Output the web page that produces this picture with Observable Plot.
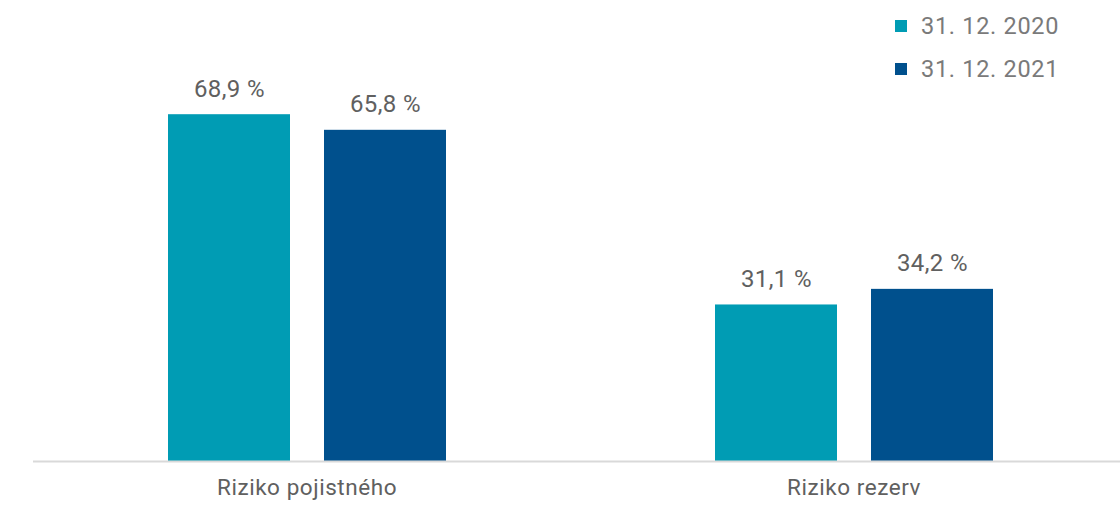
<!DOCTYPE html>
<html>
<head>
<meta charset="utf-8">
<script src="https://cdn.jsdelivr.net/npm/d3@7"></script>
<script src="https://cdn.jsdelivr.net/npm/@observablehq/plot@0.6"></script>
<style>
  html, body { margin: 0; padding: 0; background: #ffffff; }
  body { width: 1120px; height: 505px; position: relative; overflow: hidden; font-family: Roboto, "Noto Sans", sans-serif; }
  #chart { position: absolute; left: 0; top: 0; }
  #legend { position: absolute; left: 895px; top: 4px; font-size: 23.5px; letter-spacing: 0.7px; color: #7a7a7a; }
  #legend .row { display: flex; align-items: center; height: 43px; }
  #legend .sw { width: 12px; height: 12px; margin-right: 14px; }
  #chart svg g[aria-label="text"] text { letter-spacing: 0.4px; }
  #chart svg g[aria-label="fx-axis tick label"] text { letter-spacing: 0.55px; }
</style>
</head>
<body>
<div id="chart"></div>
<div id="legend"></div>
<script>
const categories = ["Riziko pojistného", "Riziko rezerv"];
const series = ["31. 12. 2020", "31. 12. 2021"];
const values2020 = [68.9, 31.1];
const values2021 = [65.8, 34.2];
const colors = ["#009CB4", "#00508D"];

const data = categories.flatMap((c, i) => [
  {cat: c, ser: series[0], v: values2020[i]},
  {cat: c, ser: series[1], v: values2021[i]}
]);
const fmt = v => v.toFixed(1).replace(".", ",") + " %";

const chart = Plot.plot({
  width: 1120,
  height: 505,
  marginTop: 8,
  marginBottom: 44,
  marginLeft: 33,
  marginRight: 0,
  style: {fontFamily: "Roboto, 'Noto Sans', sans-serif", background: "transparent"},
  fx: {domain: categories, padding: 0, range: [32.5, 1126.5], label: null, axis: null},
  x: {domain: series, paddingInner: 0.218, paddingOuter: 0.862, axis: null},
  y: {domain: [0, 90], axis: null},
  color: {domain: series, range: colors},
  marks: [
    Plot.barY(data, {fx: "cat", x: "ser", y: "v", fill: "ser"}),
    Plot.text(data, {fx: "cat", x: "ser", y: "v", text: d => fmt(d.v), lineAnchor: "bottom", dy: -18, fontSize: 24, fill: "#606060"}),
    Plot.ruleY([0], {stroke: "#d9d9d9", strokeWidth: 2}),
    Plot.axisFx({anchor: "bottom", tickSize: 0, tickPadding: 18, fontSize: 22.5, color: "#606060", label: null})
  ]
});
document.getElementById("chart").appendChild(chart);

const legend = document.getElementById("legend");
series.forEach((s, i) => {
  const row = document.createElement("div");
  row.className = "row";
  const sw = document.createElement("div");
  sw.className = "sw";
  sw.style.background = colors[i];
  const t = document.createElement("span");
  t.textContent = s;
  row.appendChild(sw);
  row.appendChild(t);
  legend.appendChild(row);
});
</script>
</body>
</html>
